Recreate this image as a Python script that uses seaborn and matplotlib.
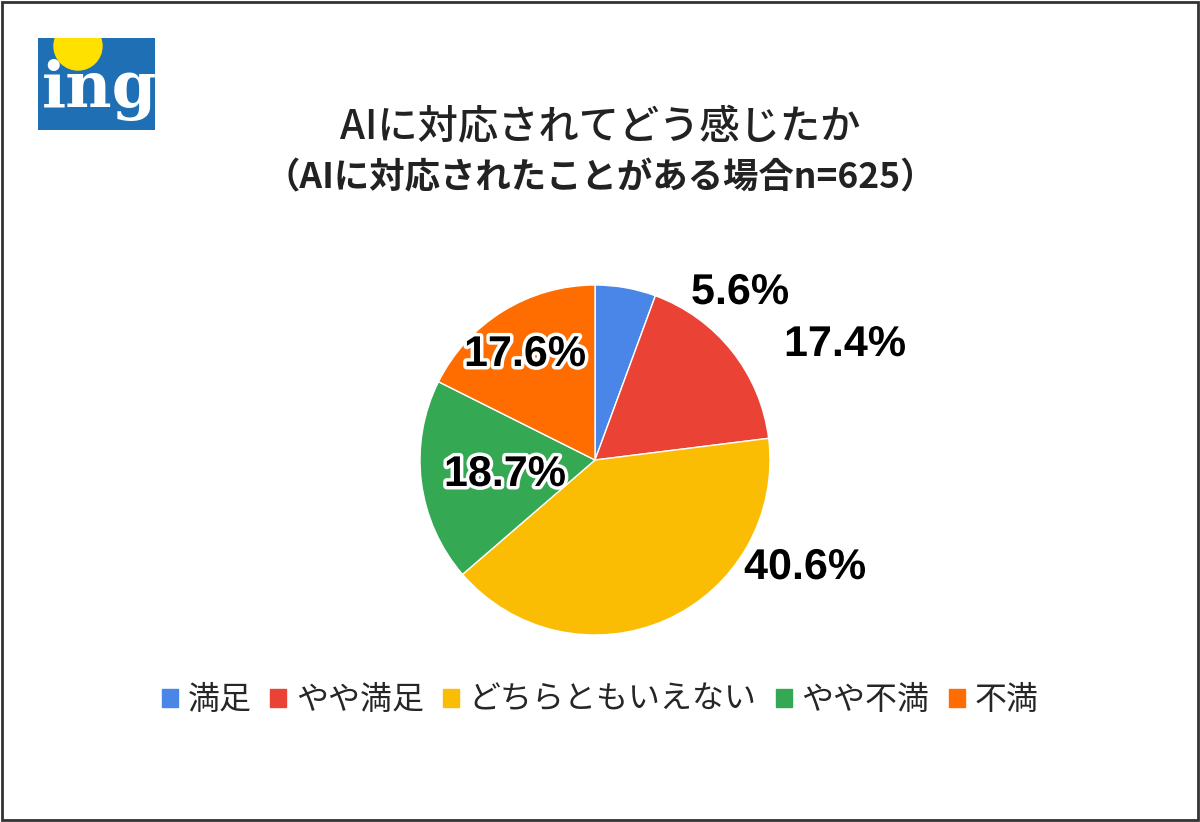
import matplotlib
matplotlib.use("Agg")
import matplotlib.pyplot as plt
import matplotlib.patheffects as pe
from matplotlib.patches import Rectangle, Circle
import seaborn as sns

sns.set_theme(style="white")
plt.rcParams['font.family'] = ['Noto Sans CJK JP', 'DejaVu Sans']

categories = ["満足", "やや満足", "どちらともいえない", "やや不満", "不満"]
values = [5.6, 17.4, 40.6, 18.7, 17.6]
labels = ["5.6%", "17.4%", "40.6%", "18.7%", "17.6%"]
colors = ["#4a86e8", "#ea4335", "#fbbc04", "#34a853", "#ff6d01"]
label_pos = [(740, 293), (845, 345), (805, 568), (505, 475), (525, 355)]  # pixel positions

fig = plt.figure(figsize=(12, 8.22), dpi=100)
fig.patch.set_facecolor("white")
fig.add_artist(Rectangle((0.002, 0.002), 0.996, 0.996, transform=fig.transFigure,
                         fill=False, edgecolor="#333333", lw=2))

# logo
ax_logo = fig.add_axes([38/1200, 1-130/822, 117/1200, 92/822])
ax_logo.set_facecolor("#1f6fb5")
ax_logo.set_xlim(0, 117); ax_logo.set_ylim(92, 0)
ax_logo.set_xticks([]); ax_logo.set_yticks([])
for s in ax_logo.spines.values():
    s.set_visible(False)
ax_logo.add_patch(Circle((40, 8), 24, color="#ffe100", clip_on=True))
ax_logo.text(62, 52, "ing", color="white", fontsize=46, fontweight="bold",
             family="DejaVu Serif", ha="center", va="center")

fig.text(0.5, 1-128/822, "AIに対応されてどう感じたか", ha="center", va="center",
         fontsize=29, fontweight="medium", color="#222222")
fig.text(0.5, 1-178/822, "（AIに対応されたことがある場合n=625）", ha="center", va="center",
         fontsize=25.5, fontweight="bold", color="#222222")

ax = fig.add_axes([(595-175)/1200, 1-(460+175)/822, 350/1200, 350/822])
ax.pie(values, colors=colors, startangle=90, counterclock=False,
       wedgeprops=dict(edgecolor="white", linewidth=1))
ax.set_xlim(-1, 1); ax.set_ylim(-1, 1)
ax.set_aspect("equal")

for lab, (x, y) in zip(labels, label_pos):
    fig.text(x/1200, 1-y/822, lab, ha="center", va="center", fontsize=31,
             fontweight="bold", color="black", family="Liberation Sans",
             path_effects=[pe.withStroke(linewidth=5, foreground="white")])

handles = [plt.Rectangle((0, 0), 1, 1, color=c) for c in colors]
fig.legend(handles, categories, loc="center", bbox_to_anchor=(0.5, 1-700/822),
           ncol=5, frameon=False, fontsize=23, handlelength=0.5, handleheight=0.5,
           handletextpad=0.3, columnspacing=0.6)

fig.savefig("out.png", dpi=100, facecolor="white")
